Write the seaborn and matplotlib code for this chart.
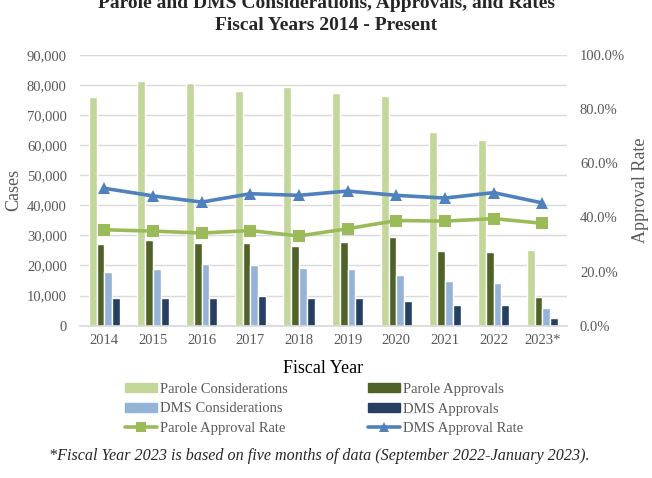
import matplotlib
matplotlib.use("Agg")
import matplotlib.pyplot as plt
import matplotlib.ticker as mticker
from matplotlib.patches import Patch
from matplotlib.lines import Line2D
import seaborn as sns
import pandas as pd

years = ["2014", "2015", "2016", "2017", "2018", "2019", "2020", "2021", "2022", "2023*"]
parole_considerations = [76100, 81100, 80700, 78000, 79400, 77300, 76300, 64300, 61600, 25100]
parole_approvals = [27000, 28500, 27600, 27400, 26400, 27700, 29600, 24900, 24400, 9500]
dms_considerations = [17900, 18900, 20500, 20100, 19000, 18900, 16800, 14800, 14100, 5900]
dms_approvals = [9200, 9200, 9300, 9900, 9200, 9300, 8200, 7000, 6900, 2700]
parole_rate = [35.4, 34.9, 34.2, 35.1, 33.1, 35.8, 38.8, 38.6, 39.5, 37.8]
dms_rate = [50.7, 47.9, 45.6, 48.7, 48.1, 49.7, 48.1, 47.1, 49.1, 45.3]

bar_series = ["Parole Considerations", "Parole Approvals", "DMS Considerations", "DMS Approvals"]
bar_colors = ["#C4D79B", "#4F6228", "#95B3D7", "#243F60"]
line_series = ["Parole Approval Rate", "DMS Approval Rate"]
line_colors = ["#9BBB59", "#4F81BD"]

sns.set_theme(style="white")
plt.rcParams["font.family"] = ["Liberation Serif", "DejaVu Serif"]

rows = []
for name, vals in zip(bar_series, [parole_considerations, parole_approvals, dms_considerations, dms_approvals]):
    for y, v in zip(years, vals):
        rows.append({"Year": y, "Series": name, "Cases": v})
bars_df = pd.DataFrame(rows)

lrows = []
for name, vals in zip(line_series, [parole_rate, dms_rate]):
    for i, v in enumerate(vals):
        lrows.append({"x": i, "Series": name, "Rate": v})
lines_df = pd.DataFrame(lrows)

fig = plt.figure(figsize=(6.52, 4.78), dpi=100)
ax = fig.add_axes([80 / 652, 1 - 325.7 / 478, (566.7 - 80) / 652, (325.7 - 54.7) / 478])

sns.barplot(data=bars_df, x="Year", y="Cases", hue="Series", hue_order=bar_series,
            palette=bar_colors, width=0.64, gap=0, ax=ax, legend=False, saturation=1)
ax.set_ylim(0, 90000)
ax.set_xlim(-0.5, 9.5)
ax.yaxis.set_major_locator(mticker.MultipleLocator(10000))
ax.yaxis.set_major_formatter(mticker.FuncFormatter(lambda v, p: f"{int(v):,}"))
ax.grid(axis="y", color="#D9D9D9", linewidth=1)
ax.set_axisbelow(True)
for s in ["top", "right", "left"]:
    ax.spines[s].set_visible(False)
ax.spines["bottom"].set_color("#D9D9D9")
ax.tick_params(axis="y", length=0, labelsize=10.5, colors="#595959", pad=9.5)
ax.tick_params(axis="x", length=0, labelsize=10.5, colors="#595959", pad=6)
ax.set_xlabel("Fiscal Year", fontsize=13, color="black", labelpad=9)
ax.set_ylabel("Cases", fontsize=13, color="#595959", labelpad=3)

ax2 = ax.twinx()
sns.lineplot(data=lines_df, x="x", y="Rate", hue="Series", hue_order=line_series,
             palette=line_colors, style="Series", markers=["s", "^"], dashes=False,
             linewidth=2.6, markersize=8, markeredgewidth=0, ax=ax2, legend=False)
ax2.set_ylim(0, 100)
ax2.set_xlim(-0.5, 9.5)
ax2.yaxis.set_major_locator(mticker.MultipleLocator(20))
ax2.yaxis.set_major_formatter(mticker.FuncFormatter(lambda v, p: f"{v:.1f}%"))
for s in ["top", "right", "left", "bottom"]:
    ax2.spines[s].set_visible(False)
ax2.tick_params(axis="y", length=0, labelsize=10.5, colors="#595959", pad=9.5)
ax2.set_ylabel("Approval Rate", fontsize=13, color="#595959", labelpad=5)
ax2.grid(False)

fig.text(0.5, 1 - 4 / 478, "Parole and DMS Considerations, Approvals, and Rates",
         ha="center", va="center", fontsize=14, fontweight="bold")
fig.text(0.5, 1 - 26 / 478, "Fiscal Years 2014 - Present",
         ha="center", va="center", fontsize=14, fontweight="bold")

handles = [
    Patch(color=bar_colors[0]), Patch(color=bar_colors[2]),
    Line2D([], [], color=line_colors[0], marker="s", lw=2.6, ms=7, mew=0),
    Patch(color=bar_colors[1]), Patch(color=bar_colors[3]),
    Line2D([], [], color=line_colors[1], marker="^", lw=2.6, ms=7, mew=0),
]
labels = [bar_series[0], bar_series[2], line_series[0], bar_series[1], bar_series[3], line_series[1]]
leg = fig.legend(handles, labels, ncol=2, loc="center", bbox_to_anchor=(324 / 652, 1 - 409 / 478),
                 frameon=False, fontsize=10.5, handlelength=2.2, handleheight=0.6,
                 handletextpad=0.2, labelspacing=0.46, columnspacing=5.5, labelcolor="#595959",
                 borderpad=0, borderaxespad=0)

fig.text(319 / 652, 1 - 456 / 478,
         "*Fiscal Year 2023 is based on five months of data (September 2022-January 2023).",
         ha="center", va="center", fontsize=11.6, style="italic")

fig.savefig("out.png", dpi=100)
